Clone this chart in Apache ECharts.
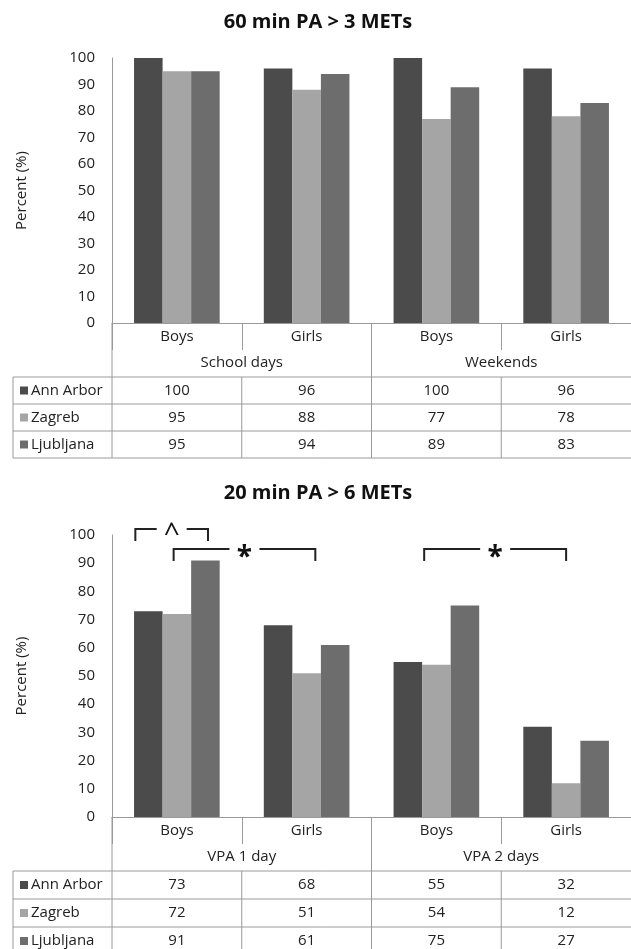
<!DOCTYPE html>
<html>
<head>
<meta charset="utf-8">
<script src="https://cdn.jsdelivr.net/npm/echarts@6/dist/echarts.min.js"></script>
<style>
  html, body { margin: 0; padding: 0; background: #fff; }
  #chart { width: 631px; height: 949px; }
</style>
</head>
<body>
<div id="chart"></div>
<script>
// categories and labels
const categories = ["Boys", "Girls", "Boys", "Girls"];
const groupsTop = ["School days", "Weekends"];
const groupsBottom = ["VPA 1 day", "VPA 2 days"];
const cities = ["Ann Arbor", "Zagreb", "Ljubljana"];
const colors = ["#4b4b4b", "#a5a5a5", "#6d6d6d"];

// 60 min PA > 3 METs
const annArbor60 = [100, 96, 100, 96];
const zagreb60 = [95, 88, 77, 78];
const ljubljana60 = [95, 94, 89, 83];

// 20 min PA > 6 METs
const annArbor20 = [73, 68, 55, 32];
const zagreb20 = [72, 51, 54, 12];
const ljubljana20 = [91, 61, 75, 27];

// significance brackets: [startCat, startFrac, endCat, endFrac, level], label
const bracketSpans = [
    [0, 0.18, 0, 0.74, 102.1],
    [0, 0.475, 1, 0.567, 95],
    [2, 0.406, 3, 0.5, 95],
];
const bracketLabels = ["^", "*", "*"];

const font = "Open Sans";
const fontSize = 15;
const lineColor = "#9a9a9a";
const textColor = "#222";

const chart = echarts.init(document.getElementById("chart"));

const topData = [annArbor60, zagreb60, ljubljana60];
const bottomData = [annArbor20, zagreb20, ljubljana20];

function xAxisFor(gridIndex) {
    return {
        type: "category",
        gridIndex: gridIndex,
        data: categories,
        axisLine: { lineStyle: { color: lineColor, width: 1 } },
        axisTick: { show: true, interval: 0, length: 27, lineStyle: { color: lineColor } },
        axisLabel: { interval: 0, margin: 6, color: textColor, fontFamily: font, fontSize: fontSize },
    };
}

function yAxisFor(gridIndex) {
    return {
        type: "value",
        gridIndex: gridIndex,
        min: 0,
        max: 100,
        interval: 10,
        name: "Percent (%)",
        nameLocation: "middle",
        nameGap: 83,
        nameTextStyle: { color: textColor, fontFamily: font, fontSize: fontSize },
        axisLine: { show: true, lineStyle: { color: lineColor } },
        axisTick: { show: false },
        splitLine: { show: false },
        axisLabel: { margin: 17, color: textColor, fontFamily: font, fontSize: fontSize },
    };
}

function barSeries(data, axisIndex) {
    return data.map((vals, i) => ({
        name: cities[i],
        type: "bar",
        xAxisIndex: axisIndex,
        yAxisIndex: axisIndex,
        barGap: "0%",
        barCategoryGap: "34%",
        itemStyle: { color: colors[i] },
        data: vals,
    }));
}

const option = {
    animation: false,
    grid: [
        { left: 112, top: 58, width: 522, height: 265 },
        { left: 112, top: 535, width: 522, height: 282 },
    ],
    xAxis: [xAxisFor(0), xAxisFor(1)],
    yAxis: [yAxisFor(0), yAxisFor(1)],
    series: [
        ...barSeries(topData, 0),
        ...barSeries(bottomData, 1),
        {
            type: "custom",
            xAxisIndex: 1,
            yAxisIndex: 1,
            clip: false,
            data: bracketSpans,
            renderItem: function (params, api) {
                const band = api.size([1, 0])[0];
                const p1 = api.coord([api.value(0), api.value(4)]);
                const p2 = api.coord([api.value(2), api.value(4)]);
                const x1 = p1[0] - band / 2 + api.value(1) * band;
                const x2 = p2[0] - band / 2 + api.value(3) * band;
                const y = p1[1];
                const leg = 12;
                const gap = 15;
                const xm = (x1 + x2) / 2;
                const label = bracketLabels[params.dataIndex];
                const stroke = { stroke: "#222", lineWidth: 2, fill: null };
                return {
                    type: "group",
                    children: [
                        { type: "polyline", shape: { points: [[x1, y + leg], [x1, y], [xm - gap, y]] }, style: stroke },
                        { type: "polyline", shape: { points: [[xm + gap, y], [x2, y], [x2, y + leg]] }, style: stroke },
                        {
                            type: "text",
                            style: {
                                text: label,
                                x: xm,
                                y: label === "^" ? y + 5 : y + 9,
                                align: "center",
                                verticalAlign: "middle",
                                fill: "#111",
                                fontFamily: font,
                                fontWeight: label === "^" ? "normal" : "bold",
                                fontSize: label === "^" ? 28 : 28,
                            },
                        },
                    ],
                };
            },
        },
    ],
};

chart.setOption(option);

function tableGraphics(axisIndex, axisY, groupTextY, rowLines, groups, data) {
    const c0 = chart.convertToPixel({ xAxisIndex: axisIndex }, 0);
    const c1 = chart.convertToPixel({ xAxisIndex: axisIndex }, 1);
    const band = c1 - c0;
    const centers = categories.map((_, i) => c0 + i * band);
    const bounds = [0, 1, 2, 3, 4].map((i) => c0 - band / 2 + i * band);
    const leftX = 13;
    const rightX = 640;
    const last = rowLines[rowLines.length - 1];
    const ls = { stroke: lineColor, lineWidth: 1 };
    const els = [];
    const vline = (x, y1, y2) =>
        els.push({ type: "line", shape: { x1: x, y1: y1, x2: x, y2: y2 }, style: ls, silent: true });
    const hline = (y) =>
        els.push({ type: "line", shape: { x1: leftX, y1: y, x2: rightX, y2: y }, style: ls, silent: true });

    vline(bounds[0], axisY, last);
    vline(bounds[2], axisY, last);
    vline(bounds[1], rowLines[0], last);
    vline(bounds[3], rowLines[0], last);
    vline(leftX, rowLines[0], last);
    rowLines.forEach(hline);

    const textStyle = (text, x, y, align) => ({
        text: text,
        x: x,
        y: y,
        align: align,
        verticalAlign: "middle",
        fill: textColor,
        fontFamily: font,
        fontSize: fontSize,
    });

    groups.forEach((g, i) => {
        els.push({
            type: "text",
            silent: true,
            style: textStyle(g, (bounds[i * 2] + bounds[i * 2 + 2]) / 2, groupTextY, "center"),
        });
    });

    data.forEach((vals, r) => {
        const yc = (rowLines[r] + rowLines[r + 1]) / 2;
        els.push({
            type: "rect",
            silent: true,
            shape: { x: 20, y: yc - 4, width: 8, height: 8 },
            style: { fill: colors[r] },
        });
        els.push({ type: "text", silent: true, style: textStyle(cities[r], 31, yc, "left") });
        vals.forEach((v, i) => {
            els.push({ type: "text", silent: true, style: textStyle(String(v), centers[i], yc, "center") });
        });
    });
    return els;
}

function titleText(text, y) {
    return {
        type: "text",
        silent: true,
        style: {
            text: text,
            x: 318,
            y: y,
            align: "center",
            verticalAlign: "middle",
            fill: "#111",
            fontFamily: font,
            fontWeight: "bold",
            fontSize: 20,
        },
    };
}

chart.setOption({
    graphic: [
        titleText("60 min PA > 3 METs", 22),
        titleText("20 min PA > 6 METs", 493),
        ...tableGraphics(0, 323, 363, [377, 404, 431, 458], groupsTop, topData),
        ...tableGraphics(1, 817, 857, [871, 899, 927, 955], groupsBottom, bottomData),
    ],
});
</script>
</body>
</html>
